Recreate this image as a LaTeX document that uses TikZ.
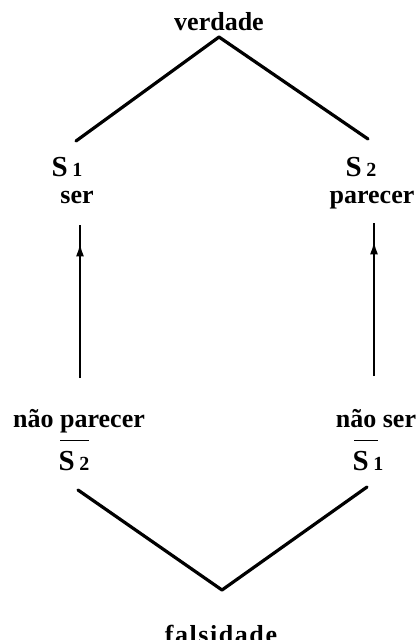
\documentclass[tikz,border=0pt]{standalone}
\usepackage{fontspec}
\setmainfont{Liberation Serif}
\usetikzlibrary{arrows.meta,decorations.markings}
\newcommand\mydigit[1]{{\fontsize{20}{22}\selectfont #1}}
\begin{document}
\begin{tikzpicture}[x=1pt,y=-1pt,
  lbl/.style={font=\fontsize{26}{30}\selectfont\bfseries, inner sep=0pt, anchor=base},
  sym/.style={font=\fontsize{29}{32}\selectfont\bfseries, inner sep=0pt, anchor=base},
  edge/.style={line width=3.2pt, line cap=round, line join=round},
  bar/.style={line width=1.2pt},
  up/.style={line width=2pt, postaction={decorate},
    decoration={markings, mark=at position 0.88 with {\arrow{Latex[length=13pt,width=8pt]}}}}]
\useasboundingbox (0,0) rectangle (420,640);
% top
\node[lbl] (ver) at (219,30) {verdade};
\coordinate (top) at (219,37);
\coordinate (s1e) at (76,141);
\coordinate (s2e) at (368,139);
\draw[edge] (s1e) -- (top) -- (s2e);
\node[sym] (s1) at (67,176) {S\,\mydigit{1}};
\node[lbl] (ser) at (77,203) {ser};
\node[sym] (s2) at (361,176) {S\,\mydigit{2}};
\node[lbl] (par) at (372,203) {parecer};
% arrows
\coordinate (a1b) at (80,378);
\coordinate (a1t) at (80,225);
\coordinate (a2b) at (374,376);
\coordinate (a2t) at (374,223);
\draw[up] (a1b) -- (a1t);
\draw[up] (a2b) -- (a2t);
% bottom
\node[lbl] (npar) at (79,427) {não parecer};
\node[lbl] (nser) at (376,427) {não ser};
\node[sym] (ns2) at (74,470) {S\,\mydigit{2}};
\node[sym] (ns1) at (368,470) {S\,\mydigit{1}};
\draw[bar] ([xshift=2pt,yshift=10pt]ns2.north west) -- ([xshift=-1pt,yshift=10pt]ns2.north east);
\draw[bar] ([xshift=2pt,yshift=10pt]ns1.north west) -- ([xshift=-6pt,yshift=10pt]ns1.north east);
\coordinate (b1e) at (78,490);
\coordinate (bot) at (222,590);
\coordinate (b2e) at (367,487);
\draw[edge] (b1e) -- (bot) -- (b2e);
\node[lbl, font=\fontsize{26}{30}\selectfont\bfseries\addfontfeatures{LetterSpace=6}] (fal) at (221,643) {falsidade};
\end{tikzpicture}
\end{document}
